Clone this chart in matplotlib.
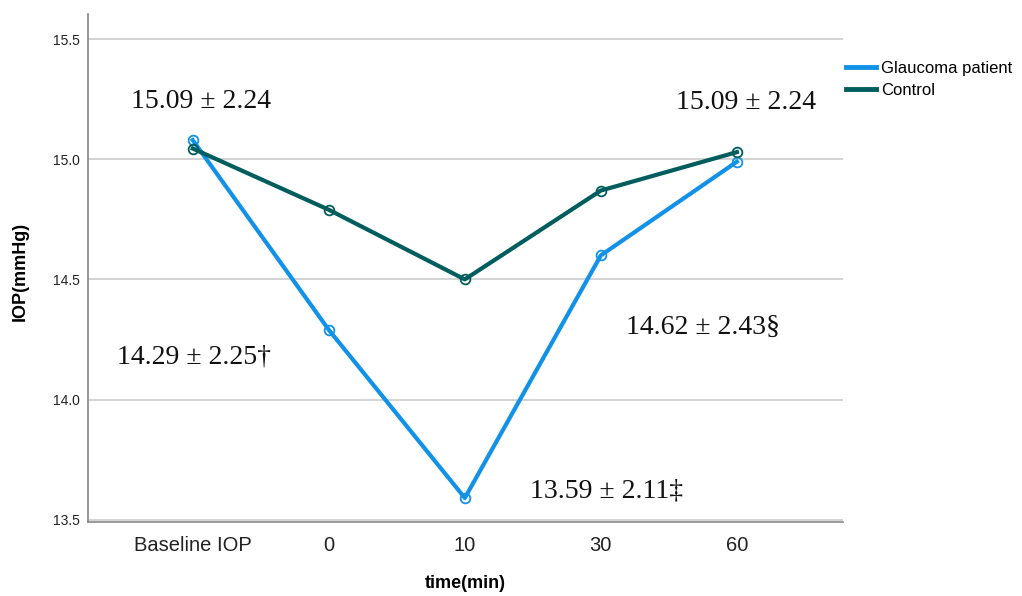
import numpy as np
import matplotlib.pyplot as plt
from matplotlib.lines import Line2D

# IOP over time, glaucoma patients vs controls
time_labels = ["Baseline IOP", "0", "10", "30", "60"]
glaucoma = [15.08, 14.29, 13.59, 14.60, 14.99]
control = [15.045, 14.79, 14.50, 14.87, 15.03]

annot_texts = ["15.09 \u00b1 2.24", "14.29 \u00b1 2.25\u2020", "13.59 \u00b1 2.11\u2021",
               "14.62 \u00b1 2.43\u00a7", "15.09 \u00b1 2.24"]
annot_x = [0.06, 0.01, 3.04, 3.75, 4.07]
annot_y = [15.24, 14.175, 13.62, 14.30, 15.235]

blue = "#1192e8"
teal = "#005d5d"

plt.rcParams['font.family'] = ['Liberation Sans', 'DejaVu Sans']

fig = plt.figure(figsize=(10.22, 5.96), dpi=100)
ax = fig.add_axes([88/1022, 74/596, (843-88)/1022, (522-14)/596])

x = np.arange(len(time_labels))
ax.plot(x, glaucoma, color=blue, lw=3, marker='o', ms=7, mfc='none',
        mew=1.3, zorder=3)
ax.plot(x, control, color=teal, lw=3, marker='o', ms=7, mfc='none',
        mew=1.3, zorder=3)

for t, tx, ty in zip(annot_texts, annot_x, annot_y):
    ax.text(tx, ty, t, fontsize=20, family=['Liberation Serif', 'DejaVu Serif'],
            va='center', ha='center', color='#111111', zorder=4)

ax.set_xlim(-0.77, 4.78)
ax.set_ylim(13.49, 15.605)
ax.set_yticks([13.5, 14.0, 14.5, 15.0, 15.5])
ax.set_yticklabels(["13.5", "14.0", "14.5", "15.0", "15.5"])
ax.set_xticks(x)
ax.set_xticklabels(time_labels)

ax.grid(axis='y', color='#cccccc', lw=1.2)
ax.set_axisbelow(True)
for s in ['top', 'right']:
    ax.spines[s].set_visible(False)
for s in ['left', 'bottom']:
    ax.spines[s].set_color('#888888')
    ax.spines[s].set_linewidth(1.2)

ax.tick_params(axis='y', length=0, labelsize=10, pad=6, colors='#222222')
ax.tick_params(axis='x', length=0, labelsize=14.5, pad=10, colors='#222222')

ax.set_xlabel("time(min)", fontsize=13, fontweight='bold')
ax.xaxis.label.set_va('center')
ax.xaxis.set_label_coords((465-88)/(843-88), -(583-522)/508)
ax.set_ylabel("IOP(mmHg)", fontsize=13, fontweight='bold')
ax.yaxis.label.set_va('center')
ax.yaxis.set_label_coords(-(88-20)/755, (522-271)/508)

handles = [Line2D([], [], color=blue, lw=3.5), Line2D([], [], color=teal, lw=3.5)]
ax.legend(handles, ["Glaucoma patient", "Control"], loc='upper left',
          bbox_to_anchor=(1.0, 0.915), frameon=False, fontsize=12,
          handlelength=1.75, handletextpad=0.35, labelspacing=0.45,
          borderaxespad=0.0, borderpad=0.2)

fig.savefig("out.png", dpi=100)
